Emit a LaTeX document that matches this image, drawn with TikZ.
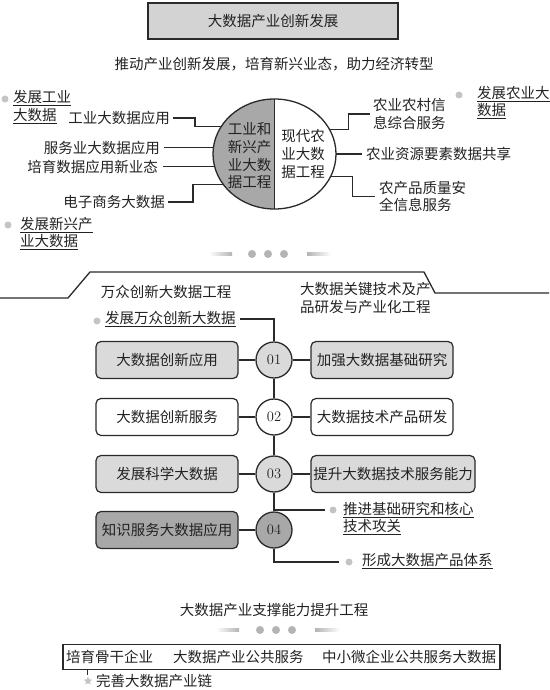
\documentclass[tikz,border=0pt]{standalone}
\usepackage{fontspec}
\newfontfamily\cjk{Noto Sans CJK SC}
\usetikzlibrary{shapes.geometric,calc}
\definecolor{txt}{HTML}{222222}
\definecolor{linec}{HTML}{2A2A2A}
\definecolor{lgray}{HTML}{DADADA}
\definecolor{mgray}{HTML}{A8A8A8}
\definecolor{bulc}{HTML}{C4C4C4}
\definecolor{titlegray}{HTML}{D3D3D3}
\definecolor{dotc}{HTML}{B4B4B4}
\tikzset{
  lab/.style={font=\cjk\fontsize{14.5}{17.7}\selectfont, inner sep=0pt, text=txt},
  conn/.style={draw=linec, line width=1.3pt},
  bullet/.style={circle, fill=bulc, minimum size=7pt, inner sep=0pt},
  fdot/.style={circle, fill=dotc, minimum size=8pt, inner sep=0pt},
  num/.style={circle, draw=linec, line width=1.3pt, minimum size=36pt, inner sep=0pt, font=\fontsize{14.5}{17}\selectfont, text=txt},
  boxn/.style={lab, draw=linec, line width=1.2pt, rounded corners=5pt, minimum width=142pt, minimum height=37pt}
}
\begin{document}
\begin{tikzpicture}[x=1pt,y=-1pt]
\useasboundingbox (0,0) rectangle (549,690);
% title
\node[lab, draw=linec, line width=1.6pt, fill=titlegray, minimum width=250pt, minimum height=36pt] (title) at (273,21) {大数据产业创新发展};
\node[lab] (sub) at (274,64) {推动产业创新发展，培育新兴业态，助力经济转型};
% ellipse
\node[ellipse, minimum width=123pt, minimum height=110pt, inner sep=0pt] (ell) at (274.5,154) {};
\begin{scope}
\clip (200,90) rectangle (274.5,220);
\fill[mgray] (ell.center) ellipse [x radius=61.5, y radius=55];
\end{scope}
\draw[linec, line width=1.3pt] (ell.center) ellipse [x radius=61.5, y radius=55];
\draw[linec, line width=1.3pt] (ell.north) -- (ell.south);
\node[lab, align=center] (lt) at (249.5,156) {工业和\\新兴产\\业大数\\据工程};
\node[lab, align=center] (rt) at (303,154) {现代农\\业大数\\据工程};
% left labels
\node[bullet] (b1) at (5,99) {};
\node[lab, anchor=west] (u1a) at (13,98) {\underline{发展工业}};
\node[lab, anchor=west] (u1b) at (13,116) {\underline{大数据}};
\node[lab, anchor=east] (l1) at (170,118) {工业大数据应用};
\node[lab, anchor=east] (l2) at (160,147.5) {服务业大数据应用};
\node[lab, anchor=east] (l3) at (158,167) {培育数据应用新业态};
\node[lab, anchor=east] (l4) at (165,202) {电子商务大数据};
\draw[conn, shorten <=3pt] (l1.east) -- ++(25,0) |- (ell.153);
\draw[conn, shorten >=4pt] (ell.174.4) -- (l2.east |- ell.174.4);
\draw[conn, shorten >=5pt] (ell.192.3) -- (l3.east |- ell.192.3);
\draw[conn, shorten <=3pt] (l4.east) -- ++(28,0) |- (ell.211.4);
\node[bullet] (b2) at (8,225) {};
\node[lab, anchor=west] (u2a) at (20,225) {\underline{发展新兴产}};
\node[lab, anchor=west] (u2b) at (20,242) {\underline{业大数据}};
% right labels
\node[bullet] (b3) at (459,95) {};
\node[lab, anchor=west] (u3a) at (477,94) {\underline{发展农业大}};
\node[lab, anchor=west] (u3b) at (477,111) {\underline{数据}};
\node[lab, anchor=west, align=left] (r1) at (373,114) {农业农村信\\息综合服务};
\node[lab, anchor=west] (r2) at (366,154) {农业资源要素数据共享};
\node[lab, anchor=west, align=left] (r3) at (379,196.5) {农产品质量安\\全信息服务};
\draw[conn, shorten >=3pt] (ell.24.5) -- ++(19,0) |- (r1.west);
\draw[conn, shorten >=4pt] (ell.0) -- (r2.west);
\draw[conn, shorten >=4pt] (ell.338.7) -- ++(22,0) |- (r3.west);
% dots row 1
\shade[left color=white, right color=dotc] (209,252.5) rectangle (232,255.5);
\shade[left color=dotc, right color=white] (307,252.5) rectangle (331,255.5);
\node[fdot] (d1) at (252,254) {};
\node[fdot] (d2) at (268,254) {};
\node[fdot] (d3) at (284,254) {};
% separator
\draw[linec, line width=1.3pt] (0,298) -- (68,298) -- (90,272) -- (424,272) -- (435,293) -- (549,293);
\node[lab] (s1) at (166,292) {万众创新大数据工程};
\node[lab, anchor=west, align=left] (s2) at (300,298) {大数据关键技术及产\\品研发与产业化工程};
% circles and boxes
\node[num, fill=lgray] (c01) at (274,360) {01};
\node[num, fill=white] (c02) at (274,417) {02};
\node[num, fill=lgray] (c03) at (274,474) {03};
\node[num, fill=mgray] (c04) at (274,530) {04};
\node[boxn, fill=lgray] (lb1) at (167,360) {大数据创新应用};
\node[boxn, fill=lgray] (rb1) at (382,360) {加强大数据基础研究};
\node[boxn, fill=white] (lb2) at (167,417) {大数据创新服务};
\node[boxn, fill=white] (rb2) at (382,417) {大数据技术产品研发};
\node[boxn, fill=lgray] (lb3) at (167,474) {发展科学大数据};
\node[boxn, fill=lgray, minimum width=164pt] (rb3) at (393,474) {提升大数据技术服务能力};
\node[boxn, fill=mgray] (lb4) at (167,530) {知识服务大数据应用};
\draw[conn] (lb1) -- (c01) -- (rb1);
\draw[conn] (lb2) -- (c02) -- (rb2);
\draw[conn] (lb3) -- (c03) -- (rb3);
\draw[conn] (lb4) -- (c04);
\draw[conn] (c01) -- (c02);
\draw[conn] (c02) -- (c03);
\draw[conn] (c03) -- (c04);
\node[bullet] (b4) at (97,321) {};
\node[lab, anchor=west] (u4) at (105,319) {\underline{发展万众创新大数据}};
\draw[conn, shorten <=4pt] (u4.east) -| (c01.north);
\node[bullet] (b5) at (333,510) {};
\node[lab, anchor=west] (u5a) at (343,510) {\underline{推进基础研究和核心}};
\node[lab, anchor=west] (u5b) at (343,527) {\underline{技术攻关}};
\coordinate (e5) at (325,510);
\draw[conn] (c04.north |- e5) -- (e5);
\node[bullet] (b6) at (349,562) {};
\node[lab, anchor=west] (u6) at (362,561) {\underline{形成大数据产品体系}};
\coordinate (e6) at (339,562);
\draw[conn] (c04.south) |- (e6);
% bottom
\node[lab] (bt) at (274,610) {大数据产业支撑能力提升工程};
\shade[left color=white, right color=dotc] (216,628.5) rectangle (239,631.5);
\shade[left color=dotc, right color=white] (315,628.5) rectangle (340,631.5);
\node[fdot] (d4) at (260,630) {};
\node[fdot] (d5) at (276,630) {};
\node[fdot] (d6) at (292,630) {};
\node[draw=linec, line width=1.2pt, minimum width=437pt, minimum height=25pt, inner sep=0pt] (bb) at (281.5,657) {};
\node[lab, anchor=west] (bt1) at (66,657) {培育骨干企业};
\node[lab, anchor=west] (bt2) at (173,657) {大数据产业公共服务};
\node[lab, anchor=west] (bt3) at (322,657) {中小微企业公共服务大数据};
\coordinate (tk) at (87,675);
\draw[linec, line width=0.8pt] (bb.south -| tk) -- (tk);
\node[star, star points=5, star point ratio=2.2, fill=bulc, minimum size=9pt, inner sep=0pt] (st) at (88,681) {};
\node[lab, anchor=west] (bt4) at (96,681) {完善大数据产业链};
\end{tikzpicture}
\end{document}
